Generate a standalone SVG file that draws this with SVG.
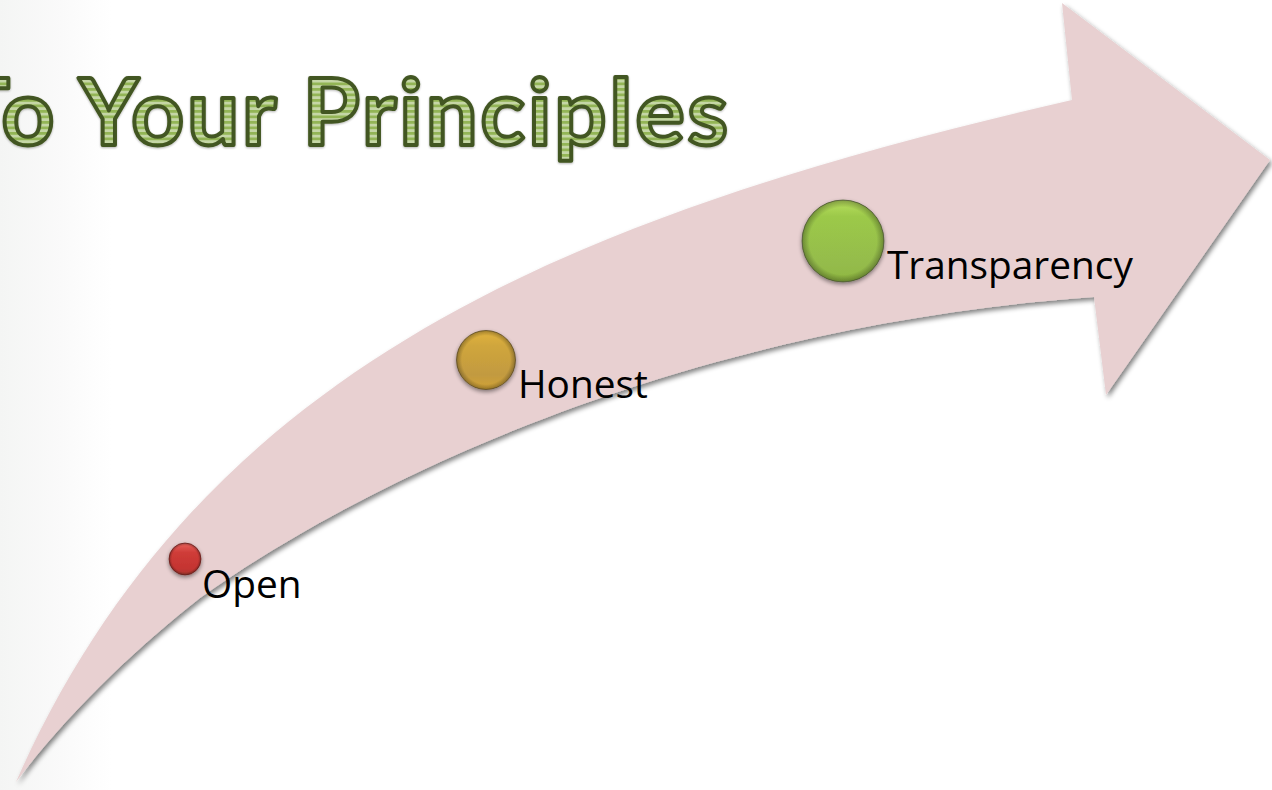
<svg xmlns="http://www.w3.org/2000/svg" width="1272" height="790" viewBox="0 0 1272 790">
<style>
.lbl{font-family:"Open Sans","Noto Sans",sans-serif;font-size:38.8px;fill:#000}
.ttl{font-family:Lato,"Open Sans",sans-serif;font-weight:700;font-size:92px;letter-spacing:3px;fill:url(#st);stroke:#435722;stroke-width:4;stroke-linejoin:round}
.edge{fill:url(#rim)}
</style>
<defs>
<linearGradient id="bg" x1="0" x2="1" y1="0" y2="0"><stop offset="0" stop-color="#f4f5f4"/><stop offset="0.55" stop-color="#fafafa"/><stop offset="1" stop-color="#fff"/></linearGradient>
<pattern id="st" width="5.5" height="5.5" patternUnits="userSpaceOnUse"><rect width="5.5" height="5.5" fill="#c5d6a6"/><rect width="5.5" height="2.75" fill="#93b556"/></pattern>
<filter id="sh" x="-5%" y="-5%" width="110%" height="110%"><feGaussianBlur in="SourceAlpha" stdDeviation="2.5"/><feOffset dx="2" dy="3"/><feComponentTransfer><feFuncA type="linear" slope="0.5"/></feComponentTransfer><feMerge><feMergeNode/><feMergeNode in="SourceGraphic"/></feMerge></filter>
<filter id="ds" x="-20%" y="-20%" width="140%" height="140%"><feGaussianBlur in="SourceAlpha" stdDeviation="2"/><feOffset dy="2"/><feComponentTransfer><feFuncA type="linear" slope="0.45"/></feComponentTransfer><feMerge><feMergeNode/><feMergeNode in="SourceGraphic"/></feMerge></filter>
<filter id="ts" x="-2%" y="-10%" width="104%" height="120%"><feGaussianBlur in="SourceAlpha" stdDeviation="1.2"/><feOffset dy="1"/><feComponentTransfer><feFuncA type="linear" slope="0.3"/></feComponentTransfer><feMerge><feMergeNode/><feMergeNode in="SourceGraphic"/></feMerge></filter>
<linearGradient id="r" x1="0" x2="0" y1="0" y2="1"><stop offset="0" stop-color="#e8625c"/><stop offset="0.3" stop-color="#cf3c38"/><stop offset="0.8" stop-color="#c43431"/><stop offset="1" stop-color="#a83a30"/></linearGradient>
<linearGradient id="o" x1="0" x2="0" y1="0" y2="1"><stop offset="0" stop-color="#e3b43f"/><stop offset="0.25" stop-color="#d0a63c"/><stop offset="0.75" stop-color="#c29a40"/><stop offset="1" stop-color="#d2a335"/></linearGradient>
<linearGradient id="g" x1="0" x2="0" y1="0" y2="1"><stop offset="0" stop-color="#b9e05e"/><stop offset="0.2" stop-color="#9cc94a"/><stop offset="0.8" stop-color="#94bb4b"/><stop offset="1" stop-color="#8fb83f"/></linearGradient>
<radialGradient id="rim"><stop offset="0.82" stop-color="#000" stop-opacity="0"/><stop offset="1" stop-color="#000" stop-opacity="0.3"/></radialGradient>
</defs>
<rect width="1272" height="790" fill="#fff"/>
<rect width="112" height="790" fill="url(#bg)"/>
<g id="title"><text class="ttl" x="-45.5" y="145" filter="url(#ts)">To Your Principles</text></g>
<g id="connectors"><path id="arrow" filter="url(#sh)" fill="#e8d0d1" d="M16,782 C200,365 572,215 1072,100 L1062,3 L1270,160 L1106,395 L1094,297 C700,325 380,470 200,598 C140,645 70,710 16,782 Z"/></g>
<g id="node-open"><g filter="url(#ds)"><circle cx="185" cy="559" r="16" fill="url(#r)" stroke="#7d2a26" stroke-width="0.8"/><circle class="edge" cx="185" cy="559" r="16"/></g><text class="lbl" x="202" y="598">Open</text></g>
<g id="node-honest"><g filter="url(#ds)"><circle cx="486" cy="360" r="29.5" fill="url(#o)" stroke="#6e5a30" stroke-width="0.8"/><circle class="edge" cx="486" cy="360" r="29.5"/></g><text class="lbl" x="518" y="398">Honest</text></g>
<g id="node-transparency"><g filter="url(#ds)"><circle cx="843" cy="241" r="41" fill="url(#g)" stroke="#5b6640" stroke-width="0.8"/><circle class="edge" cx="843" cy="241" r="41"/></g><text class="lbl" x="887" y="279">Transparency</text></g>
</svg>
